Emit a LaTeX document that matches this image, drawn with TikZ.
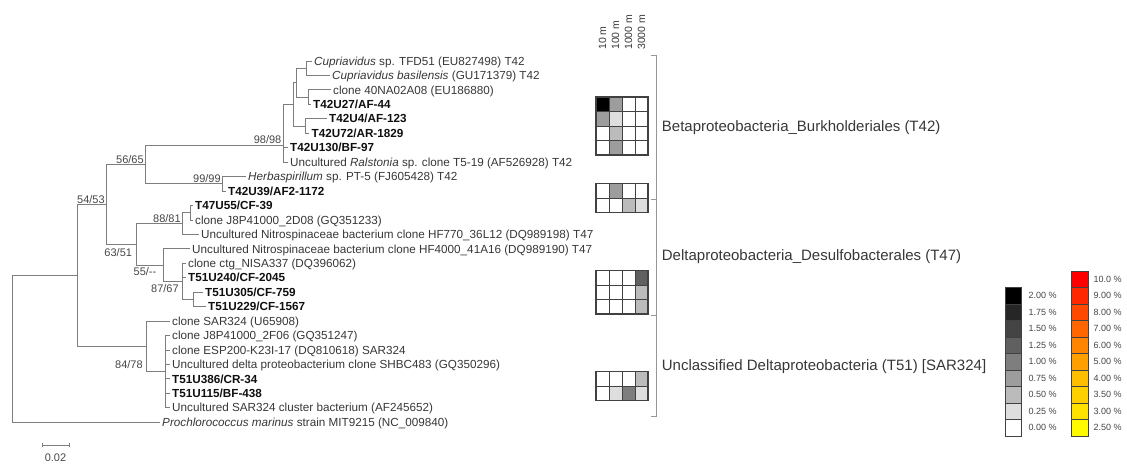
\documentclass[tikz,border=0pt]{standalone}
\usepackage{fontspec}
\setmainfont{Liberation Sans}
\usepackage{xcolor}
\usetikzlibrary{positioning}
\definecolor{cbranch}{RGB}{125, 125, 125}
\definecolor{ctext}{RGB}{55, 55, 55}
\definecolor{cbold}{RGB}{15, 15, 15}
\definecolor{cboot}{RGB}{70, 70, 70}
\definecolor{cgrid}{RGB}{65, 65, 65}
\definecolor{cbracket}{RGB}{150, 150, 150}
% grey scale of the heat map
\definecolor{hA}{RGB}{255, 255, 255}
\definecolor{hB}{RGB}{222, 222, 222}
\definecolor{hC}{RGB}{187, 187, 187}
\definecolor{hD}{RGB}{157, 157, 157}
\definecolor{hE}{RGB}{126, 126, 126}
\definecolor{hF}{RGB}{96, 96, 96}
\definecolor{hG}{RGB}{68, 68, 68}
\definecolor{hH}{RGB}{38, 38, 38}
\definecolor{hI}{RGB}{0, 0, 0}
% colour scale
\definecolor{rA}{RGB}{255, 0, 0}
\definecolor{rB}{RGB}{255, 40, 0}
\definecolor{rC}{RGB}{255, 72, 0}
\definecolor{rD}{RGB}{255, 102, 0}
\definecolor{rE}{RGB}{255, 132, 0}
\definecolor{rF}{RGB}{255, 160, 0}
\definecolor{rG}{RGB}{255, 190, 0}
\definecolor{rH}{RGB}{255, 208, 0}
\definecolor{rI}{RGB}{255, 226, 0}
\definecolor{rJ}{RGB}{255, 250, 0}

\begin{document}
\begin{tikzpicture}[
  x=1pt, y=-1pt,
  leaf/.style={anchor=west, inner xsep=2.5pt, inner ysep=0pt, text height=8.3pt, text depth=0pt,
    font=\fontsize{11.7}{12}\selectfont, text=ctext},
  bleaf/.style={leaf, font=\fontsize{11.7}{12}\selectfont\bfseries, text=cbold},
  boot/.style={font=\fontsize{11}{11}\selectfont, text=cboot, inner sep=0.8pt},
  branch/.style={draw=cbranch, line width=0.9pt},
  cell/.style={draw=cgrid, line width=0.7pt},
  block/.style={draw=cgrid, line width=1.3pt},
  legcell/.style={draw=cgrid, line width=0.6pt},
  legtext/.style={anchor=west, font=\fontsize{9}{9}\selectfont, text=cboot, inner sep=0pt},
  clade/.style={anchor=west, inner sep=0pt, text height=10.7pt, text depth=0pt,
    font=\fontsize{15}{15}\selectfont, text=ctext},
  depthlab/.style={rotate=90, anchor=west, inner sep=0pt, font=\fontsize{10.5}{10.5}\selectfont, text=ctext},
  bracket/.style={draw=cbracket, line width=1pt},
]
\useasboundingbox (0,0) rectangle (1127,467);

% ---- Leaves ----
\node[leaf]  (l1)  at (311.5, 61.00)  {\textit{Cupriavidus} sp. TFD51 (EU827498) T42};
\node[leaf]  (l2)  at (329.5, 75.45)  {\textit{Cupriavidus basilensis} (GU171379) T42};
\node[leaf]  (l3)  at (330.5, 89.90)  {clone 40NA02A08 (EU186880)};
\node[bleaf] (l4)  at (310.5, 104.35) {T42U27/AF-44};
\node[bleaf] (l5)  at (326.5, 118.80) {T42U4/AF-123};
\node[bleaf] (l6)  at (309.0, 133.25) {T42U72/AR-1829};
\node[bleaf] (l7)  at (287.5, 147.70) {T42U130/BF-97};
\node[leaf]  (l8)  at (287.5, 162.15) {Uncultured \textit{Ralstonia} sp. clone T5-19 (AF526928) T42};
\node[leaf]  (l9)  at (245.5, 176.60) {\textit{Herbaspirillum} sp. PT-5 (FJ605428) T42};
\node[bleaf] (l10) at (225.5, 191.05) {T42U39/AF2-1172};
\node[bleaf] (l11) at (192.5, 205.50) {T47U55/CF-39};
\node[leaf]  (l12) at (192.5, 219.95) {clone J8P41000\_2D08 (GQ351233)};
\node[leaf]  (l13) at (198.5, 234.40) {Uncultured Nitrospinaceae bacterium clone HF770\_36L12 (DQ989198) T47};
\node[leaf]  (l14) at (189.5, 248.85) {Uncultured Nitrospinaceae bacterium clone HF4000\_41A16 (DQ989190) T47};
\node[leaf]  (l15) at (185.5, 263.30) {clone ctg\_NISA337 (DQ396062)};
\node[bleaf] (l16) at (185.5, 277.75) {T51U240/CF-2045};
\node[bleaf] (l17) at (202.5, 292.20) {T51U305/CF-759};
\node[bleaf] (l18) at (205.5, 306.65) {T51U229/CF-1567};
\node[leaf]  (l19) at (169.5, 321.10) {clone SAR324 (U65908)};
\node[leaf]  (l20) at (169.5, 335.55) {clone J8P41000\_2F06 (GQ351247)};
\node[leaf]  (l21) at (169.5, 350.00) {clone ESP200-K23I-17 (DQ810618) SAR324};
\node[leaf]  (l22) at (169.5, 364.45) {Uncultured delta proteobacterium clone SHBC483 (GQ350296)};
\node[bleaf] (l23) at (169.5, 378.90) {T51U386/CR-34};
\node[bleaf] (l24) at (169.5, 393.35) {T51U115/BF-438};
\node[leaf]  (l25) at (169.5, 407.80) {Uncultured SAR324 cluster bacterium (AF245652)};
\node[leaf]  (l26) at (159.5, 422.25) {\textit{Prochlorococcus marinus} strain MIT9215 (NC\_009840)};

% ---- Internal nodes ----
\coordinate (nA1a) at (306.7, 68.2);
\coordinate (nA1b) at (308.3, 97.1);
\coordinate (nA1)  at (296.7, 82.7);
\coordinate (nA2)  at (305.0, 126.0);
\coordinate (nA)   at (293.3, 104.4);
\coordinate (n98)  at (283.3, 145.0);
\coordinate (n99)  at (222.7, 183.8);
\coordinate (n56)  at (145.7, 164.4);
\coordinate (nT47) at (190.0, 212.7);
\coordinate (n88)  at (182.7, 223.6);
\coordinate (nT51) at (193.3, 299.4);
\coordinate (n87)  at (182.7, 281.4);
\coordinate (n55)  at (163.3, 265.1);
\coordinate (n63)  at (136.0, 244.4);
\coordinate (n54)  at (106.7, 204.4);
\coordinate (nSAR) at (165.3, 371.7);
\coordinate (n84)  at (146.7, 346.4);
\coordinate (nIn)  at (77.7, 275.4);
\coordinate (root) at (12.7, 348.8);

% ---- Branches ----
\draw[branch] (nA1a) |- (l1.west) (nA1a) |- (l2.west);
\draw[branch] (nA1b) |- (l3.west) (nA1b) |- (l4.west);
\draw[branch] (nA1) |- (nA1a) (nA1) |- (nA1b);
\draw[branch] (nA2) |- (l5.west) (nA2) |- (l6.west);
\draw[branch] (nA) |- (nA1) (nA) |- (nA2);
\draw[branch] (n98) |- (nA) (n98) |- (l7.west) (n98) |- (l8.west);
\draw[branch] (n99) |- (l9.west) (n99) |- (l10.west);
\draw[branch] (n56) |- (n98) (n56) |- (n99);
\draw[branch] (nT47) |- (l11.west) (nT47) |- (l12.west);
\draw[branch] (n88) |- (nT47) (n88) |- (l13.west);
\draw[branch] (nT51) |- (l17.west) (nT51) |- (l18.west);
\draw[branch] (n87) |- (l15.west) (n87) |- (l16.west) (n87) |- (nT51);
\draw[branch] (n55) |- (l14.west) (n55) |- (n87);
\draw[branch] (n63) |- (n88) (n63) |- (n55);
\draw[branch] (n54) |- (n56) (n54) |- (n63);
\draw[branch] (nSAR) |- (l20.west) (nSAR) |- (l21.west) (nSAR) |- (l22.west)
  (nSAR) |- (l23.west) (nSAR) |- (l24.west) (nSAR) |- (l25.west);
\draw[branch] (n84) |- (l19.west) (n84) |- (nSAR);
\draw[branch] (nIn) |- (n54) (nIn) |- (n84);
\draw[branch] (root) |- (nIn) (root) |- (l26.west);

% ---- Bootstrap values ----
\node[boot, above left=0pt and 1pt of n98] {98/98};
\node[boot, above left=0pt and 1pt of n99] {99/99};
\node[boot, above left=0pt and 1pt of n56] {56/65};
\node[boot, above left=0pt and 1pt of n54] {54/53};
\node[boot, above left=0pt and 1pt of n88] {88/81};
\node[boot, below left=3pt and 3pt of n63] {63/51};
\node[boot, below left=1pt and 6pt of n55] {55/-{}-};
\node[boot, below left=2pt and 3pt of n87] {87/67};
\node[boot, below left=13pt and 3pt of n84] {84/78};

% ---- Scale bar ----
\coordinate (sbL) at (42, 445);
\coordinate (sbR) at (69, 445);
\draw[branch, line width=0.7pt] (sbL) -- (sbR);
\draw[branch, line width=0.7pt] ([yshift=2pt]sbL) -- ([yshift=-2pt]sbL) ([yshift=2pt]sbR) -- ([yshift=-2pt]sbR);
\node[boot] (sblab) at (55.5, 458) {0.02};

% ---- Heat map ----
\node[depthlab] (d1) at (602.5, 50) {10 m};
\node[depthlab] (d2) at (615.5, 50) {100 m};
\node[depthlab] (d3) at (628.5, 50) {1000 m};
\node[depthlab] (d4) at (641.5, 50) {3000 m};

\foreach \y/\pa/\pb/\pc/\pd in {104.35/hI/hD/hA/hA, 118.80/hD/hB/hA/hA, 133.25/hA/hC/hA/hA, 147.70/hA/hD/hA/hA,
  191.05/hA/hD/hA/hA, 205.50/hA/hA/hC/hB,
  277.75/hA/hA/hA/hF, 292.20/hA/hA/hA/hC, 306.65/hA/hA/hA/hC,
  378.90/hA/hA/hA/hC, 393.35/hA/hB/hE/hB}
  \foreach \s [count=\i from 0] in {\pa,\pb,\pc,\pd}
    \draw[cell, fill=\s] ({596+13*\i}, {\y-7.225}) rectangle ++(13, 14.45);
\foreach \top/\bot in {97.125/154.925, 183.825/212.725, 270.525/313.875, 371.675/400.575}
  \draw[block] (596, \top) rectangle (648, \bot);

% ---- Clade bracket ----
\coordinate (brT) at (656.7, 55);
\coordinate (brM1) at (656.7, 199.3);
\coordinate (brM2) at (656.7, 315);
\coordinate (brB) at (656.7, 416.7);
\draw[bracket] ([xshift=-6pt]brT) -- (brT) -- (brB) -- ([xshift=-6pt]brB);
\draw[bracket] ([xshift=-6pt]brM1) -- (brM1) ([xshift=-6pt]brM2) -- (brM2);

\node[clade] (beta) at (661.7, 126) {Betaproteobacteria\_Burkholderiales (T42)};
\node[clade] (delta) at (661.7, 255) {Deltaproteobacteria\_Desulfobacterales (T47)};
\node[clade] (sar) at (661.7, 365) {Unclassified Deltaproteobacteria (T51) [SAR324]};

% ---- Legends ----
\foreach \col/\lab [count=\i from 0] in {hI/2.00, hH/1.75, hG/1.50, hF/1.25, hE/1.00, hD/0.75, hC/0.50, hB/0.25, hA/0.00} {
  \draw[legcell, fill=\col] (1005, {287.3+16.5*\i}) rectangle ++(16.7, 16.5);
  \node[legtext] (g\i) at (1028.3, {295.55+16.5*\i}) {\lab\ \%};
}
\draw[legcell] (1005, 287.3) rectangle (1021.7, 435.8);
\foreach \col/\lab [count=\i from 0] in {rA/10.0, rB/9.00, rC/8.00, rD/7.00, rE/6.00, rF/5.00, rG/4.00, rH/3.50, rI/3.00, rJ/2.50} {
  \draw[legcell, fill=\col] (1071.7, {270.8+16.5*\i}) rectangle ++(16.7, 16.5);
  \node[legtext] (r\i) at (1093.3, {279.05+16.5*\i}) {\lab\ \%};
}
\draw[legcell] (1071.7, 270.8) rectangle (1088.4, 435.8);

\end{tikzpicture}
\end{document}
